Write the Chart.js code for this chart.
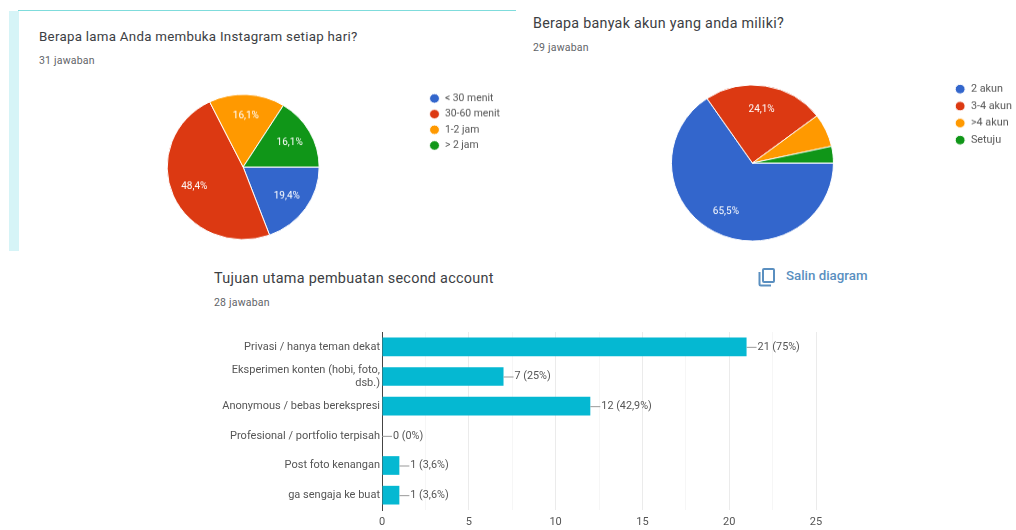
<!DOCTYPE html>
<html>
<head>
<meta charset="utf-8">
<script src="https://cdn.jsdelivr.net/npm/chart.js@4"></script>
<style>
  html, body { margin: 0; padding: 0; background: #fff; }
  body { width: 1016px; height: 530px; position: relative; overflow: hidden; font-family: Roboto, sans-serif; filter: blur(0.4px); }
  canvas { position: absolute; }
  .title, .sub, .copy { position: absolute; white-space: nowrap; line-height: 1; }
  .title { color: #3c4043; letter-spacing: .28px; }
  .sub { font-size: 10.5px; color: #5f6368; letter-spacing: .2px; }
  .copy { left: 786px; top: 269px; font-size: 13.3px; font-weight: 500; color: #5a8fc0; }
  #strip { position: absolute; left: 9px; top: 11px; width: 10px; height: 240px; background: #d6f4f7; }
  #topline { position: absolute; left: 18px; top: 10px; width: 498px; height: 1px; background: #7fdcdc; }
  #icon { position: absolute; left: 758px; top: 267px; }
</style>
</head>
<body>
<div id="strip"></div>
<div id="topline"></div>

<div class="title" style="left:39px;top:30px;font-size:13.3px">Berapa lama Anda membuka Instagram setiap hari?</div>
<div class="sub" style="left:39px;top:56px">31 jawaban</div>
<!-- the reference screenshot is a bit squashed vertically, so the pies are too -->
<canvas id="pieTime" width="447" height="166" style="left:63px;top:84px;transform:scaleY(.955)"></canvas>

<div class="title" style="left:533px;top:16px;font-size:14.3px">Berapa banyak akun yang anda miliki?</div>
<div class="sub" style="left:533px;top:43px">29 jawaban</div>
<canvas id="pieAccounts" width="465" height="178" style="left:557px;top:74px;transform:scaleY(.963)"></canvas>

<div class="title" style="left:214px;top:272px;font-size:14.4px">Tujuan utama pembuatan second account</div>
<div class="sub" style="left:214px;top:298px">28 jawaban</div>
<svg id="icon" width="18" height="20" viewBox="0 0 18 20" fill="none" stroke="#5a8fc0" stroke-width="2">
  <rect x="5" y="2" width="11" height="13" rx="1"></rect>
  <path d="M1.500 5 V17 a1.500 1.500 0 0 0 1.500 1.500 H13"></path>
</svg>
<div class="copy">Salin diagram</div>
<canvas id="barPurpose" width="640" height="198" style="left:200px;top:332px"></canvas>

<script>
var timeLabels = ['< 30 menit', '30-60 menit', '1-2 jam', '> 2 jam'];
var timeCounts = [6, 15, 5, 5];

var accountLabels = ['2 akun', '3-4 akun', '>4 akun', 'Setuju'];
var accountCounts = [19, 7, 2, 1];

var purposeLabels = [
  'Privasi / hanya teman dekat',
  ['Eksperimen konten (hobi, foto,', 'dsb.)'],
  'Anonymous / bebas berekspresi',
  'Profesional / portfolio terpisah',
  'Post foto kenangan',
  'ga sengaja ke buat'
];
var purposeCounts = [21, 7, 12, 0, 1, 1];
var purposeTotal = 28;

var pieColors = ['#3366cc', '#dc3912', '#ff9900', '#109618'];
var textColor = '#555';

Chart.defaults.font.family = 'Roboto, sans-serif';
Chart.defaults.animation = false;

// percent text inside the slices, small slices get none
var sliceLabels = {
  id: 'sliceLabels',
  afterDatasetsDraw: function (chart) {
    var ctx = chart.ctx;
    var counts = chart.data.datasets[0].data;
    var total = counts.reduce(function (a, b) { return a + b; }, 0);
    ctx.save();
    ctx.font = '10px Roboto, sans-serif';
    ctx.fillStyle = '#fff';
    ctx.textAlign = 'center';
    ctx.textBaseline = 'middle';
    chart.getDatasetMeta(0).data.forEach(function (arc, i) {
      var pct = counts[i] / total * 100;
      if (pct < 10) return;
      var mid = (arc.startAngle + arc.endAngle) / 2;
      var dist = arc.outerRadius * 0.7;
      ctx.fillText(pct.toFixed(1).replace('.', ',') + '%', arc.x + Math.cos(mid) * dist, arc.y + Math.sin(mid) * dist);
    });
    ctx.restore();
  }
};

// leader line and "n (p%)" at the end of each bar
var barValueLabels = {
  id: 'barValueLabels',
  afterDatasetsDraw: function (chart) {
    var ctx = chart.ctx;
    ctx.save();
    ctx.font = '10.8px Roboto, sans-serif';
    ctx.textBaseline = 'middle';
    chart.getDatasetMeta(0).data.forEach(function (bar, i) {
      var v = purposeCounts[i];
      var pct = +(v / purposeTotal * 100).toFixed(1);
      ctx.strokeStyle = '#999';
      ctx.beginPath();
      ctx.moveTo(bar.x, bar.y + 0.5);
      ctx.lineTo(bar.x + 10, bar.y + 0.5);
      ctx.stroke();
      ctx.fillStyle = textColor;
      ctx.fillText(v + ' (' + String(pct).replace('.', ',') + '%)', bar.x + 11, bar.y);
    });
    ctx.restore();
  }
};

function makePie(id, labels, counts, radius, fontSize, gap) {
  return new Chart(document.getElementById(id), {
    type: 'pie',
    data: {
      labels: labels,
      datasets: [{
        data: counts,
        backgroundColor: pieColors,
        borderColor: '#fff',
        borderWidth: 1,
        radius: radius
      }]
    },
    options: {
      responsive: false,
      rotation: 90,
      plugins: {
        tooltip: { enabled: false },
        legend: {
          position: 'right',
          align: 'start',
          labels: {
            usePointStyle: true,
            pointStyle: 'circle',
            boxHeight: 7,
            padding: gap,
            color: textColor,
            font: { size: fontSize }
          }
        }
      }
    },
    plugins: [sliceLabels]
  });
}

makePie('pieTime', timeLabels, timeCounts, 76, 10.4, 6);
makePie('pieAccounts', accountLabels, accountCounts, 81, 10.8, 6.85);

new Chart(document.getElementById('barPurpose'), {
  type: 'bar',
  data: {
    labels: purposeLabels,
    datasets: [{
      data: purposeCounts,
      backgroundColor: '#05b8d2',
      barPercentage: 0.63,
      categoryPercentage: 1
    }]
  },
  options: {
    responsive: false,
    indexAxis: 'y',
    layout: { padding: { right: 24 } },
    plugins: { legend: { display: false }, tooltip: { enabled: false } },
    scales: {
      x: {
        min: 0,
        max: 25,
        afterFit: function (scale) { scale.height = 20; },
        grid: {
          drawTicks: false,
          color: function (c) { return c.tick.value % 5 === 0 ? '#ebebeb' : '#f6f6f6'; }
        },
        border: { display: false },
        ticks: {
          stepSize: 2.5,
          autoSkip: false,
          maxRotation: 0,
          padding: 6,
          color: textColor,
          font: { size: 11 },
          callback: function (v) { return v % 5 === 0 ? v : ''; }
        }
      },
      y: {
        // the two line label must not push the plot down
        afterFit: function (scale) { scale.width = 182; scale.paddingTop = 0; scale.paddingBottom = 0; },
        grid: { display: false, drawTicks: false },
        border: { color: '#444', width: 1 },
        ticks: { padding: 2, autoSkip: false, color: textColor, font: { size: 11 } }
      }
    }
  },
  plugins: [barValueLabels]
});
</script>
</body>
</html>
